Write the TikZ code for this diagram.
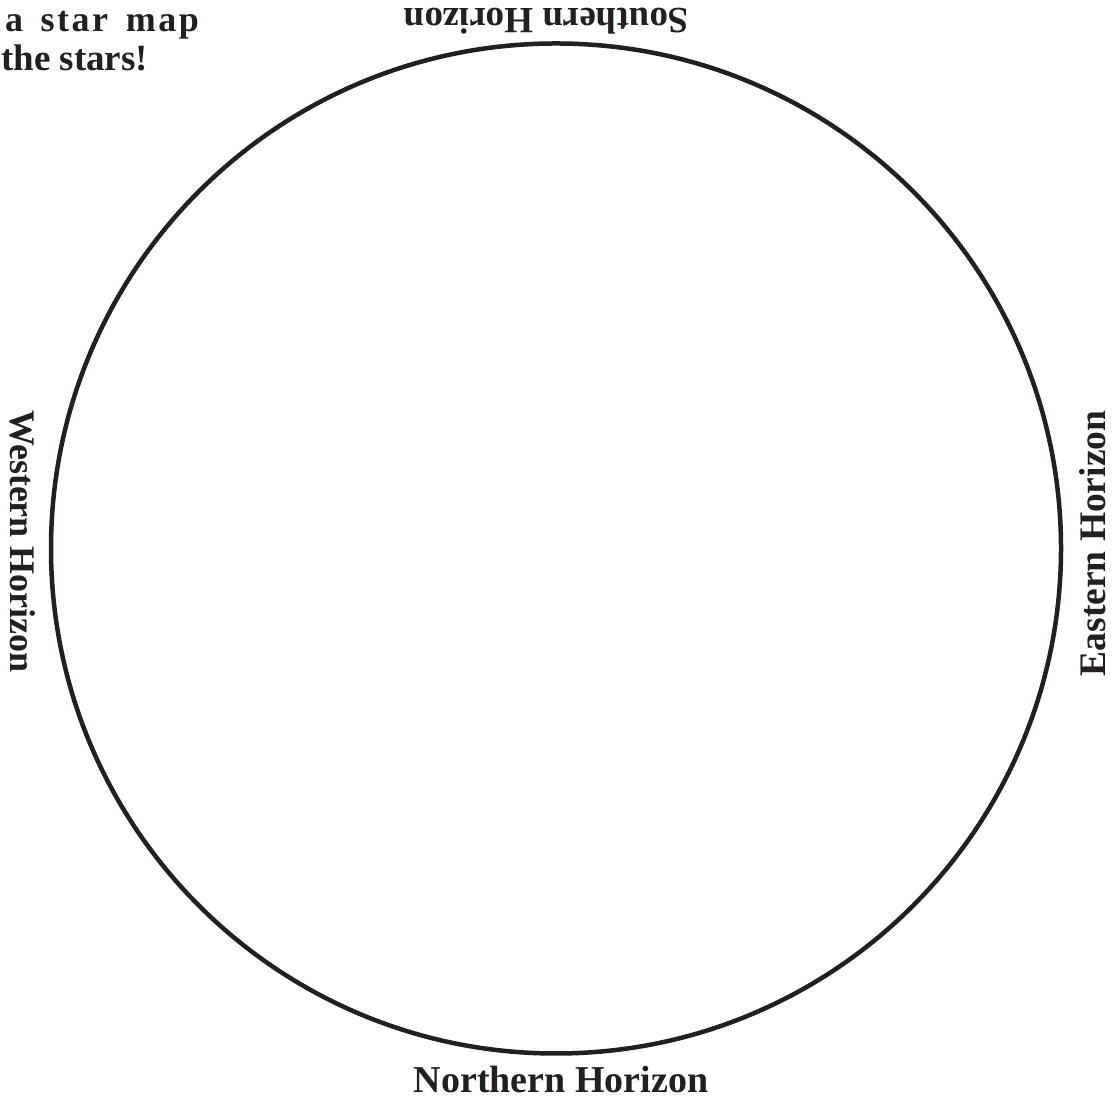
\documentclass[tikz,border=0pt]{standalone}
\usepackage{fontspec}
\setmainfont{Liberation Serif}
\definecolor{ink}{HTML}{231F20}
\begin{document}
\begin{tikzpicture}[x=1pt,y=1pt,
  label/.style={inner sep=0pt, text=ink, font=\bfseries},
  rim/.style={draw=ink, line width=4.5pt}]
  \useasboundingbox (0,0) rectangle (1113,1099);
  % the sky disc
  \node[rim, circle, minimum size=1010pt, inner sep=0pt] (sky) at (556,550.5) {};
  % horizon labels
  \node[label, anchor=base, font=\bfseries\fontsize{37}{37}\selectfont, rotate=180] (south) at (546.5,1090) {Southern Horizon};
  \node[label, anchor=base, font=\bfseries\fontsize{38}{38}\selectfont] (north) at (561,6) {Northern Horizon};
  \node[label, anchor=base, font=\bfseries\fontsize{36}{36}\selectfont, rotate=-90] (west) at (10,557.5) {Western Horizon};
  \node[label, anchor=base, font=\bfseries\fontsize{37.5}{37.5}\selectfont, rotate=90] (east) at (1105,555.5) {Eastern Horizon};
  % heading text in the corner
  \node[label, anchor=base west, font=\bfseries\fontsize{36}{36}\selectfont\addfontfeature{LetterSpace=7}] (head1) at (5,1067) {a\hspace{6pt} star\hspace{6pt} map};
  \node[label, anchor=base west, font=\bfseries\fontsize{37}{37}\selectfont] (head2) at (1,1028) {the stars!};
\end{tikzpicture}
\end{document}
